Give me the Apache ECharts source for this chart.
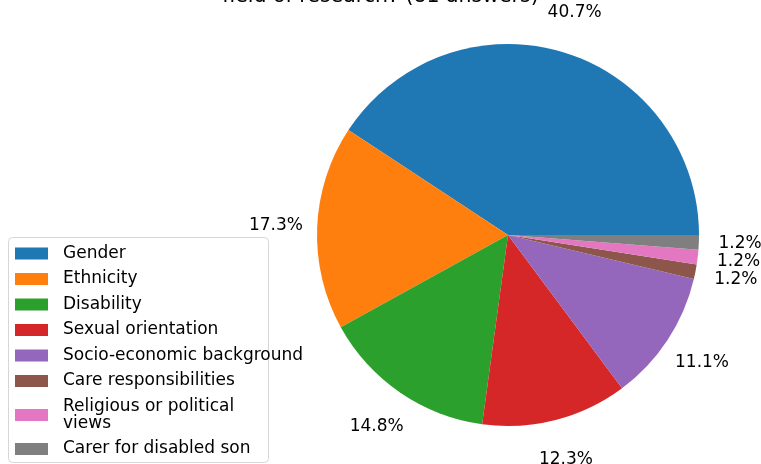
<!DOCTYPE html>
<html><head><meta charset="utf-8">
<script src="https://cdn.jsdelivr.net/npm/echarts@6/dist/echarts.min.js"></script>
<style>html,body{margin:0;padding:0;background:#fff}#c{width:761px;height:464px}</style>
</head><body><div id="c"></div>
<script>
const titleText = 'field of research? (81 answers)';
const categories = ['Gender','Ethnicity','Disability','Sexual orientation','Socio-economic background','Care responsibilities','Religious or political\nviews','Carer for disabled son'];
const counts = [33,14,12,10,9,1,1,1];
const colors = ['#1f77b4','#ff7f0e','#2ca02c','#d62728','#9467bd','#8c564b','#e377c2','#7f7f7f'];

const R = 191;
const total = counts.reduce((a,b)=>a+b,0);
const data = categories.map((n,i)=>({name:n, value:counts[i], itemStyle:{color:colors[i]}}));
const labelData = categories.map((n,i)=>({name:n, value:counts[i]}));

const chart = echarts.init(document.getElementById('c'), null, {renderer:'canvas'});
chart.setOption({
  animation:false,
  backgroundColor:'#fff',
  title:{text:titleText, left:'center', top:-14, textStyle:{fontFamily:'DejaVu Sans', fontSize:20.5, fontWeight:'normal', color:'#000'}, padding:[0,0,0,0]},
  graphic:[{
    type:'rect', left:8, top:237, z:-1, silent:true,
    shape:{width:260, height:225, r:4},
    style:{fill:'rgba(255,255,255,0.8)', stroke:'#d6d6d6', lineWidth:1}
  }],
  legend:{
    orient:'vertical', left:8, top:237, height:400,
    data:categories,
    itemWidth:33, itemHeight:12, itemGap:8.5,
    icon:'rect',
    padding:[8,8,5,7],
    selectedMode:false,
    textStyle:{fontFamily:'DejaVu Sans', fontSize:17, color:'#000', lineHeight:17, padding:[0,0,0,10]}
  },
  series:[
    {
      type:'pie', center:[508,235], radius:[0,R], startAngle:0, clockwise:false,
      data:data, label:{show:false}, labelLine:{show:false}, silent:true,
      itemStyle:{borderWidth:0}
    },
    {
      type:'pie', center:[508,235], radius:[R*1.1,R*1.3], startAngle:0, clockwise:false,
      data:labelData, silent:true, legendHoverLink:false,
      itemStyle:{color:'rgba(0,0,0,0)'},
      labelLine:{show:false},
      label:{show:true, position:'inside', fontFamily:'DejaVu Sans', fontSize:17, color:'#000',
        formatter:p=>(p.value/total*100).toFixed(1)+'%'}
    }
  ]
});
</script></body></html>
